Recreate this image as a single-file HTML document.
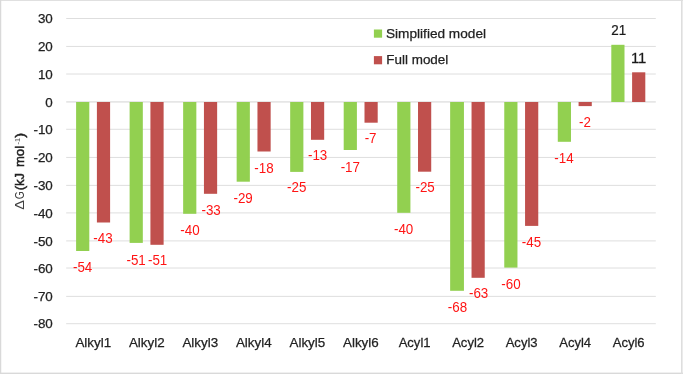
<!DOCTYPE html>
<html lang="en"><head><meta charset="utf-8"><title>ΔG chart</title>
<style>
html,body{margin:0;padding:0;background:#fff;}
body{width:683px;height:374px;overflow:hidden;}
svg{display:block;font-family:"Liberation Sans",sans-serif;}
</style></head><body>
<svg width="683" height="374" viewBox="0 0 683 374">
<rect x="0" y="0" width="683" height="374" fill="#fff"/>
<g fill="#D9D9D9"><rect x="0" y="0" width="683" height="0.8"/><rect x="0" y="0" width="1.25" height="374"/><rect x="0" y="372.6" width="683" height="1.4"/><rect x="681" y="0" width="1.6" height="374" fill="#DEDEDE"/></g>

<g stroke="#D6D6D6" stroke-width="0.8">
<line x1="66.2" x2="655.8" y1="18.50" y2="18.50"/>
<line x1="66.2" x2="655.8" y1="46.45" y2="46.45"/>
<line x1="66.2" x2="655.8" y1="74.00" y2="74.00"/>
<line x1="66.2" x2="655.8" y1="129.30" y2="129.30"/>
<line x1="66.2" x2="655.8" y1="157.45" y2="157.45"/>
<line x1="66.2" x2="655.8" y1="185.40" y2="185.40"/>
<line x1="66.2" x2="655.8" y1="212.90" y2="212.90"/>
<line x1="66.2" x2="655.8" y1="240.90" y2="240.90"/>
<line x1="66.2" x2="655.8" y1="268.00" y2="268.00"/>
<line x1="66.2" x2="655.8" y1="296.40" y2="296.40"/>
<line x1="66.2" x2="655.8" y1="323.70" y2="323.70"/>
</g>
<line x1="66.2" x2="655.8" y1="101.9" y2="101.9" stroke="#E6E6E6" stroke-width="1.6"/>
<g fill="#92D050">
<rect x="76.10" y="102.00" width="13.2" height="149.00"/>
<rect x="129.62" y="102.00" width="13.2" height="140.90"/>
<rect x="183.14" y="102.00" width="13.2" height="111.80"/>
<rect x="236.66" y="102.00" width="13.2" height="79.70"/>
<rect x="290.18" y="102.00" width="13.2" height="69.90"/>
<rect x="343.70" y="102.00" width="13.2" height="48.00"/>
<rect x="397.22" y="102.00" width="13.2" height="110.80"/>
<rect x="450.14" y="102.00" width="13.8" height="188.80"/>
<rect x="504.26" y="102.00" width="13.2" height="165.60"/>
<rect x="557.78" y="102.00" width="13.2" height="39.80"/>
<rect x="611.30" y="44.80" width="13.2" height="57.20"/>
</g>
<g fill="#C0504D">
<rect x="96.90" y="102.00" width="13.2" height="120.50"/>
<rect x="150.42" y="102.00" width="13.2" height="142.80"/>
<rect x="203.94" y="102.00" width="13.2" height="91.80"/>
<rect x="257.46" y="102.00" width="13.2" height="49.50"/>
<rect x="310.98" y="102.00" width="13.2" height="37.80"/>
<rect x="364.50" y="102.00" width="13.2" height="20.70"/>
<rect x="418.02" y="102.00" width="13.2" height="69.70"/>
<rect x="471.54" y="102.00" width="13.2" height="175.80"/>
<rect x="525.06" y="102.00" width="13.2" height="123.90"/>
<rect x="578.58" y="102.00" width="13.2" height="4.10"/>
<rect x="632.10" y="72.30" width="13.2" height="29.70"/>
</g>
<g font-size="13.4" fill="#222222" stroke="#222222" stroke-width="0.25" text-anchor="end">
<text x="52.8" y="23.10">30</text>
<text x="52.8" y="51.05">20</text>
<text x="52.8" y="78.60">10</text>
<text x="52.8" y="106.50">0</text>
<text x="52.8" y="133.90">-10</text>
<text x="52.8" y="162.05">-20</text>
<text x="52.8" y="190.00">-30</text>
<text x="52.8" y="217.50">-40</text>
<text x="52.8" y="245.50">-50</text>
<text x="52.8" y="272.60">-60</text>
<text x="52.8" y="301.00">-70</text>
<text x="52.8" y="328.30">-80</text>
</g>
<g font-size="13.4" fill="#222222" stroke="#222222" stroke-width="0.25" text-anchor="middle">
<text x="93.26" y="347">Alkyl1</text>
<text x="146.78" y="347">Alkyl2</text>
<text x="200.30" y="347">Alkyl3</text>
<text x="253.82" y="347">Alkyl4</text>
<text x="307.34" y="347">Alkyl5</text>
<text x="360.86" y="347">Alkyl6</text>
<text transform="translate(414.58 347) scale(0.975 1)">Acyl1</text>
<text transform="translate(468.10 347) scale(0.975 1)">Acyl2</text>
<text transform="translate(521.62 347) scale(0.975 1)">Acyl3</text>
<text transform="translate(575.14 347) scale(0.975 1)">Acyl4</text>
<text transform="translate(628.66 347) scale(0.975 1)">Acyl6</text>
</g>
<g font-size="14" text-anchor="middle">
<text transform="translate(82.60 272.20) scale(0.957 1)" fill="#FF1414">-54</text>
<text transform="translate(102.95 243.10) scale(0.957 1)" fill="#FF1414">-43</text>
<text transform="translate(136.10 264.70) scale(0.957 1)" fill="#FF1414">-51</text>
<text transform="translate(157.60 265.40) scale(0.957 1)" fill="#FF1414">-51</text>
<text transform="translate(189.90 234.60) scale(0.957 1)" fill="#FF1414">-40</text>
<text transform="translate(211.10 215.40) scale(0.957 1)" fill="#FF1414">-33</text>
<text transform="translate(243.10 202.60) scale(0.957 1)" fill="#FF1414">-29</text>
<text transform="translate(264.00 172.80) scale(0.957 1)" fill="#FF1414">-18</text>
<text transform="translate(296.70 191.90) scale(0.957 1)" fill="#FF1414">-25</text>
<text transform="translate(317.60 160.40) scale(0.957 1)" fill="#FF1414">-13</text>
<text transform="translate(350.30 171.50) scale(0.957 1)" fill="#FF1414">-17</text>
<text transform="translate(370.60 143.10) scale(0.957 1)" fill="#FF1414">-7</text>
<text transform="translate(403.60 234.30) scale(0.957 1)" fill="#FF1414">-40</text>
<text transform="translate(425.10 191.90) scale(0.957 1)" fill="#FF1414">-25</text>
<text transform="translate(457.40 311.90) scale(0.957 1)" fill="#FF1414">-68</text>
<text transform="translate(478.60 298.00) scale(0.957 1)" fill="#FF1414">-63</text>
<text transform="translate(511.00 289.00) scale(0.957 1)" fill="#FF1414">-60</text>
<text transform="translate(531.50 247.30) scale(0.957 1)" fill="#FF1414">-45</text>
<text transform="translate(564.00 162.90) scale(0.957 1)" fill="#FF1414">-14</text>
<text transform="translate(584.90 127.10) scale(0.957 1)" fill="#FF1414">-2</text>
<text transform="translate(618.70 34.50) scale(0.957 1)" fill="#1a1a1a" stroke="#1a1a1a" stroke-width="0.25">21</text>
<text transform="translate(638.60 63.40) scale(1.06 1)" fill="#1a1a1a" stroke="#1a1a1a" stroke-width="0.25">11</text>
</g>
<rect x="373.9" y="29.5" width="8.2" height="8.2" fill="#92D050"/>
<rect x="373.9" y="56.1" width="8.2" height="8.2" fill="#C0504D"/>
<g font-size="13.4" fill="#222222" stroke="#222222" stroke-width="0.25">
<text x="386.0" y="37.6" textLength="100" lengthAdjust="spacingAndGlyphs">Simplified model</text>
<text x="386.3" y="63.7" textLength="62" lengthAdjust="spacingAndGlyphs">Full model</text>
</g>
<g transform="translate(24.3,209.2) rotate(-90)" font-size="13.4" fill="#222222">
<text x="-0.5" y="0" textLength="9.7" lengthAdjust="spacingAndGlyphs" fill="#404040">Δ</text>
<text x="10.0" y="0" textLength="8.0" lengthAdjust="spacingAndGlyphs" fill="#404040">G</text>
<g stroke="#222222" stroke-width="0.5">
<text x="18.9" y="0" textLength="17.4" lengthAdjust="spacingAndGlyphs">(kJ</text>
<text x="42.1" y="0" textLength="21.2" lengthAdjust="spacingAndGlyphs">mol</text>
<text x="64.8" y="-4.6" font-size="7.6" textLength="6.6" lengthAdjust="spacingAndGlyphs" stroke="none" fill="#4d4d4d">-1</text>
<text x="71.4" y="0" textLength="4.8" lengthAdjust="spacingAndGlyphs">)</text>
</g></g>
</svg>
</body></html>
